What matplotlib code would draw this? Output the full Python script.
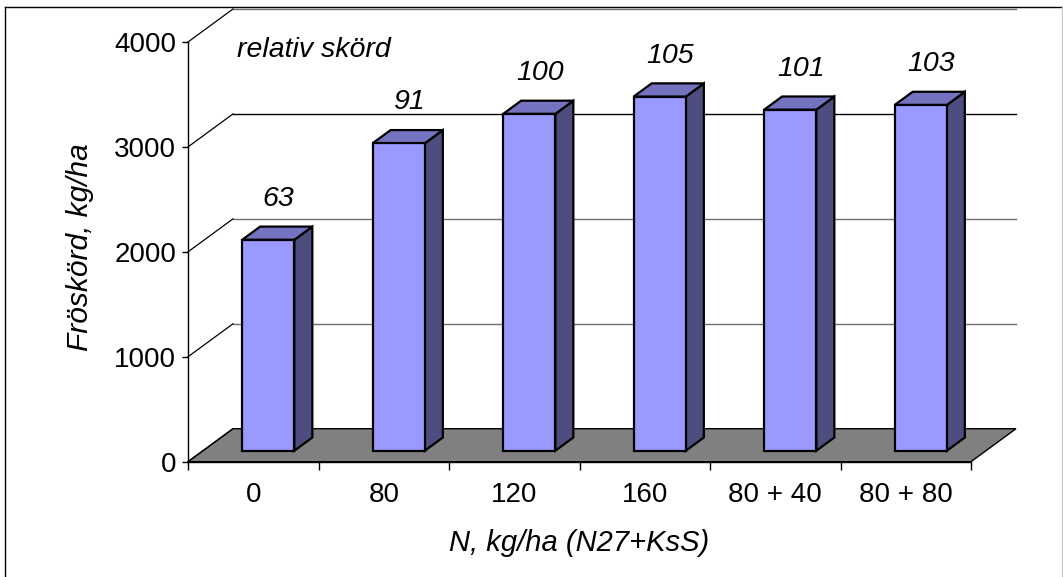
import matplotlib.pyplot as plt
from matplotlib.lines import Line2D
from matplotlib.patches import Polygon, Rectangle

plt.rcParams["font.family"] = ["Liberation Sans", "DejaVu Sans"]

# seed yield per N treatment, with relative yield (120 kg N = 100)
categories = ["0", "80", "120", "160", "80 + 40", "80 + 80"]
yield_kg = [2010, 2930, 3210, 3375, 3250, 3295]
relative = [63, 91, 100, 105, 101, 103]
y_ticks = [0, 1000, 2000, 3000, 4000]

W, H = 1063, 577
fig = plt.figure(figsize=(W / 100, H / 100), dpi=100)
fig.patch.set_facecolor("white")

# front plane of the pseudo-3D plot
ax = fig.add_axes([188 / W, (H - 461.7) / H, 783 / W, (461.7 - 42) / H])
n = len(categories)
ax.set_xlim(0, n)
ax.set_ylim(0, 4000)
ax.patch.set_alpha(0)

# depth of the box in data units (45 px right, 33 px up)
DX = 45 / (783 / n)
DY = 33 / ((461.7 - 42) / 4000)
BW = 0.4          # bar width, category units
F0, BD = 1 / 3, 0.4  # bar front position and bar depth as depth fractions

FRONT = "#9999ff"
SIDE = "#4d4d80"
TOP = "#7373c0"
EDGE_LW = 1.6

# floor
ax.add_patch(Polygon([(0, 0), (n, 0), (n + DX, DY), (DX, DY)], closed=True,
                     facecolor="#808080", edgecolor="black", lw=1.0,
                     clip_on=False, zorder=1))

# back wall gridlines and the diagonals from the value axis
for v in y_ticks:
    ax.add_line(Line2D([0, DX], [v, v + DY], color="black", lw=0.9,
                       clip_on=False, zorder=1))
    if v > 0:
        c = "black" if v == 3000 else "#707070"
        ax.add_line(Line2D([DX, n + DX], [v + DY, v + DY], color=c, lw=1.0,
                           clip_on=False, zorder=0.5))

# bars
for i, v in enumerate(yield_kg):
    x0 = i + 0.5 - BW / 2 + F0 * DX
    y0 = F0 * DY
    bdx, bdy = BD * DX, BD * DY
    ax.add_patch(Polygon([(x0 + BW, y0), (x0 + BW + bdx, y0 + bdy),
                          (x0 + BW + bdx, y0 + v + bdy), (x0 + BW, y0 + v)],
                         closed=True, facecolor=SIDE, edgecolor="black",
                         lw=EDGE_LW, joinstyle="miter", clip_on=False, zorder=3))
    ax.add_patch(Polygon([(x0, y0 + v), (x0 + BW, y0 + v),
                          (x0 + BW + bdx, y0 + v + bdy), (x0 + bdx, y0 + v + bdy)],
                         closed=True, facecolor=TOP, edgecolor="black",
                         lw=EDGE_LW, joinstyle="miter", clip_on=False, zorder=3))
    ax.add_patch(Rectangle((x0, y0), BW, v, facecolor=FRONT, edgecolor="black",
                           lw=EDGE_LW, joinstyle="miter", clip_on=False, zorder=4))
    ax.annotate(str(relative[i]), (x0 + BW / 2 + bdx / 2, y0 + v + bdy),
                xytext=(1, 20), textcoords="offset points",
                ha="center", va="center", fontsize=20.5, style="italic",
                annotation_clip=False, zorder=5)

for side in ("top", "right"):
    ax.spines[side].set_visible(False)
for side in ("left", "bottom"):
    ax.spines[side].set_color("black")
    ax.spines[side].set_linewidth(1.0)
    ax.spines[side].set_zorder(2)

ax.set_yticks(y_ticks)
ax.tick_params(axis="y", direction="out", length=4.5, width=1, pad=4,
               labelsize=20, colors="black")
ax.set_xticks(range(n + 1))
ax.set_xticklabels([])
ax.set_xticks([i + 0.5 for i in range(n)], minor=True)
ax.set_xticklabels(categories, minor=True)
ax.tick_params(axis="x", which="major", direction="out", length=6, width=1)
ax.tick_params(axis="x", which="minor", length=0, pad=14.5, labelsize=20)

fig.text(237 / W, 1 - 50 / H, "relativ skörd", ha="left", va="center",
         fontsize=20.5, style="italic")
fig.text(80 / W, 1 - 247 / H, "Fröskörd, kg/ha", ha="center", va="center",
         rotation=90, fontsize=21.5, style="italic")
fig.text(579 / W, 1 - 543 / H, "N, kg/ha (N27+KsS)", ha="center", va="center",
         fontsize=21, style="italic")

# chart frame
fig.add_artist(Line2D([5 / W, 5 / W], [0, 1 - 6.5 / H], color="black", lw=1.0))
fig.add_artist(Line2D([5 / W, 1062 / W], [1 - 6.5 / H, 1 - 6.5 / H],
                      color="black", lw=1.0))
fig.add_artist(Line2D([1062 / W, 1062 / W], [0, 1 - 6.5 / H],
                      color="#c8c8c8", lw=1.0))

fig.savefig("out.png", dpi=100, facecolor="white")
